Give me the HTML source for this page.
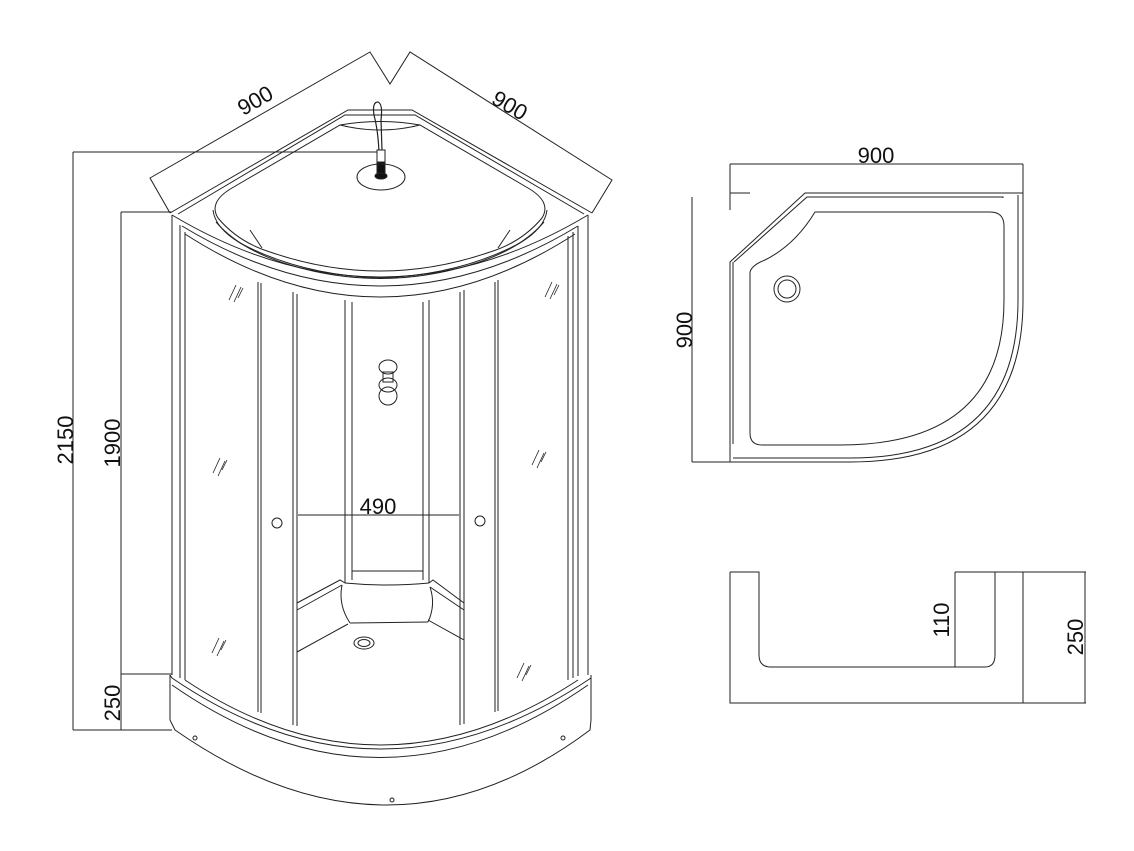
<!DOCTYPE html>
<html><head><meta charset="utf-8"><style>
html,body{margin:0;padding:0;background:#fff}
svg{display:block}
text{font-family:"Liberation Sans",sans-serif;font-size:22px;fill:#111}
</style></head><body>
<svg width="1134" height="851" viewBox="0 0 1134 851" xmlns="http://www.w3.org/2000/svg">
<g fill="none" stroke="#222" stroke-width="1">
<!-- left dims -->
<line x1="73" y1="152" x2="73" y2="730"/>
<line x1="73" y1="152" x2="380" y2="152"/>
<line x1="73" y1="730" x2="172" y2="730"/>
<line x1="121" y1="212" x2="121" y2="730"/>
<line x1="121" y1="212" x2="172" y2="212"/>
<line x1="121" y1="674" x2="172" y2="674"/>
<!-- top 900 dims -->
<polyline points="170,213 150,178 370,52 390,84 410,52 612,180 592,213"/>
<!-- roof -->
<polyline points="170,213 348,110 412,110 592,213"/>
<polyline points="178,214 345,115 415,115 584,214"/>
<path d="M172,215 Q380,339 588,215"/>
<path d="M182,226 Q380,346 578,226"/>
<path d="M185,234 Q380,360 575,234"/>
<!-- dome -->
<path d="M232,188 L340,125 Q380,118 420,125 L528,188 Q552,202 542,218 Q522,242 490,252 Q380,290 270,252 Q238,242 218,218 Q208,202 232,188 Z"/>
<path d="M213,210 Q215,228 240,243 Q300,275 380,278 Q460,275 520,243 Q545,228 547,210"/>
<path d="M216,222 Q240,250 290,265 Q380,292 470,265 Q520,250 544,222"/>
<line x1="250" y1="230" x2="262" y2="248"/><line x1="510" y1="230" x2="498" y2="248"/>
<path d="M340,125 Q380,135 420,125"/>
<!-- shower head -->
<path d="M379,152 Q378,130 374,115 Q372,102 378,102 Q383,104 381,120 L382,150" stroke-width="1.2"/>
<rect x="377" y="150" width="8" height="12" fill="#fff"/>
<rect x="377" y="162" width="8" height="12" fill="#111"/>
<ellipse cx="381" cy="177" rx="24" ry="13"/>
<ellipse cx="381" cy="176" rx="6" ry="3" fill="#111"/>
<!-- walls -->
<line x1="172" y1="215" x2="172" y2="675"/>
<line x1="185" y1="232" x2="185" y2="680"/>
<line x1="180" y1="225" x2="180" y2="678"/>
<line x1="258" y1="282" x2="258" y2="712"/>
<line x1="261" y1="283" x2="261" y2="713"/>
<line x1="293" y1="292" x2="293" y2="725"/>
<line x1="297" y1="294" x2="297" y2="726"/>
<line x1="345" y1="300" x2="345" y2="583"/>
<line x1="352" y1="302" x2="352" y2="580"/>
<line x1="423" y1="302" x2="423" y2="580"/>
<line x1="429" y1="300" x2="429" y2="583"/>
<line x1="460" y1="292" x2="460" y2="725"/>
<line x1="464" y1="290" x2="464" y2="724"/>
<line x1="495" y1="282" x2="495" y2="712"/>
<line x1="498" y1="280" x2="498" y2="711"/>
<line x1="568" y1="236" x2="568" y2="680"/>
<line x1="573" y1="232" x2="573" y2="678"/>
<line x1="578" y1="226" x2="578" y2="676"/>
<line x1="588" y1="215" x2="588" y2="675"/>
<!-- back panel bottom -->
<line x1="352" y1="571" x2="423" y2="571"/>
<path d="M345,583 Q387,587 429,583"/>
<polyline points="297,603 340,580 345,583"/><polyline points="297,610 342,585"/>
<polyline points="464,603 433,580 429,583"/><polyline points="464,610 430,587"/>
<line x1="297" y1="652" x2="348" y2="624"/><line x1="464" y1="640" x2="428" y2="620"/>
<path d="M342,585 Q338,605 350,623"/><path d="M430,587 Q436,605 428,622"/>
<line x1="350" y1="623" x2="428" y2="622"/>
<ellipse cx="364" cy="643" rx="10" ry="6"/><ellipse cx="364" cy="643" rx="6" ry="3.5"/>
<!-- controls -->
<ellipse cx="388" cy="367" rx="9" ry="7"/><rect x="383" y="372" width="10" height="10"/>
<ellipse cx="388" cy="385" rx="9" ry="7"/><ellipse cx="388" cy="396" rx="9" ry="9"/>
<!-- handles -->
<circle cx="277" cy="523" r="5"/><circle cx="480" cy="521" r="5"/>
<!-- 490 -->
<line x1="298" y1="515" x2="459" y2="515"/>
<!-- hatches -->
<g stroke-width="0.8">
<path d="M229,300 L236,285 M234,302 L241,287 M238,298 L243,288"/>
<path d="M545,297 L552,282 M550,299 L557,284 M554,295 L559,285"/>
<path d="M213,473 L220,458 M218,476 L225,461 M222,470 L227,460"/>
<path d="M532,465 L539,450 M537,468 L544,453 M541,462 L546,452"/>
<path d="M212,653 L219,638 M217,656 L224,641 M221,650 L226,640"/>
<path d="M517,678 L524,663 M522,681 L529,666 M526,675 L531,665"/>
</g>
<!-- tray front -->
<path d="M170,675 L172,678 Q380,820 591,678 L591,675"/>
<path d="M185,680 Q380,810 578,680"/>
<path d="M172,685 Q380,830 588,685"/>
<line x1="170" y1="675" x2="170" y2="720"/><line x1="591" y1="675" x2="591" y2="720"/>
<path d="M170,720 L175,730 Q390,880 590,730 L591,720"/>
<circle cx="195" cy="738" r="2"/><circle cx="392" cy="800" r="2"/><circle cx="563" cy="738" r="2"/>
<!-- tray plan -->
<line x1="730" y1="164" x2="1023" y2="164"/>
<line x1="730" y1="164" x2="730" y2="210"/><line x1="1023" y1="164" x2="1023" y2="195"/>
<line x1="730" y1="193" x2="750" y2="193"/>
<line x1="692" y1="197" x2="692" y2="462"/><line x1="692" y1="462" x2="730" y2="462"/>
<path d="M730,462 L730,262 L805,193 L1023,193 L1023,300 Q1023,462 850,462 Z"/>
<path d="M733,458 L850,458 Q1018,458 1018,300 L1018,195"/>
<path d="M734,262 L807,197 L1003,197 L1003,198"/>
<line x1="733" y1="262" x2="733" y2="444"/>
<path d="M815,212 L990,212 Q1004,212 1004,226 L1004,300 Q1004,445 840,445 L762,445 Q750,445 750,433 L750,272 Q752,265 765,260 Q795,245 815,212 Z"/>
<circle cx="787" cy="289" r="13"/><circle cx="787" cy="289" r="9"/>
<!-- side view -->
<path d="M730,572 L759,572 L759,655 Q759,667 771,667 L985,667 Q995,667 995,655 L995,572"/>
<path d="M955,572 L1086,572"/>
<path d="M730,572 L730,703 L1086,703"/>
<line x1="1023" y1="572" x2="1023" y2="703"/>
<line x1="955" y1="572" x2="955" y2="667"/>
<line x1="1085" y1="572" x2="1085" y2="703"/>
</g>
<text x="65" y="440" text-anchor="middle" transform="rotate(-90 65 440)" dy="8">2150</text>
<text x="112" y="443" text-anchor="middle" transform="rotate(-90 112 443)" dy="8">1900</text>
<text x="112" y="703" text-anchor="middle" transform="rotate(-90 112 703)" dy="8">250</text>
<text x="255" y="100" text-anchor="middle" transform="rotate(-30 255 100)" dy="8">900</text>
<text x="510" y="105" text-anchor="middle" transform="rotate(30 510 105)" dy="8">900</text>
<text x="378" y="514" text-anchor="middle">490</text>
<text x="876" y="163" text-anchor="middle">900</text>
<text x="684" y="330" text-anchor="middle" transform="rotate(-90 684 330)" dy="8">900</text>
<text x="941" y="620" text-anchor="middle" transform="rotate(-90 941 620)" dy="8">110</text>
<text x="1075" y="637" text-anchor="middle" transform="rotate(-90 1075 637)" dy="8">250</text>
</svg>
</body></html>
